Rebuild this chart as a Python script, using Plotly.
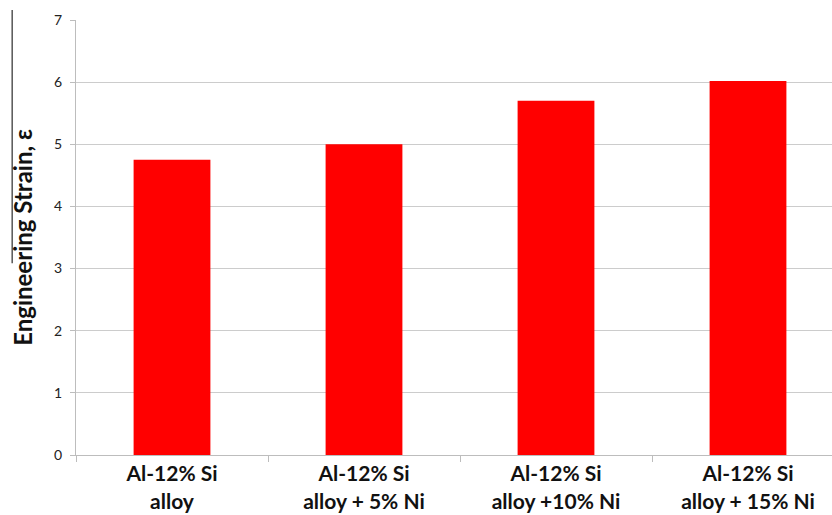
import plotly.graph_objects as go

# Alloy compositions and measured engineering strain
categories = [
    "Al-12% Si<br>alloy",
    "Al-12% Si<br>alloy + 5% Ni",
    "Al-12% Si<br>alloy +10% Ni",
    "Al-12% Si<br>alloy + 15% Ni",
]
strain = [4.75, 5.0, 5.7, 6.02]
y_ticks = [0, 1, 2, 3, 4, 5, 6, 7]

axis_gray = "#bdbdbd"

fig = go.Figure(
    go.Bar(
        x=categories,
        y=strain,
        width=0.40,
        marker=dict(color="#ff0000", line=dict(width=0)),
        hoverinfo="x+y",
    )
)

fig.update_layout(
    width=832,
    height=515,
    margin=dict(l=76, r=0, t=20, b=60),
    paper_bgcolor="white",
    plot_bgcolor="white",
    showlegend=False,
    bargap=0.6,
    font=dict(family="Lato, 'Open Sans', sans-serif", color="#111"),
)

fig.update_xaxes(
    type="category",
    range=[-0.5, 3.4375],
    tickson="boundaries",
    ticks="outside",
    ticklen=6,
    tickcolor=axis_gray,
    tickwidth=1,
    showline=True,
    linecolor=axis_gray,
    linewidth=1,
    showgrid=False,
    tickfont=dict(size=21, family="Lato, sans-serif", color="#111", weight="bold"),
)

fig.update_yaxes(
    range=[0, 7],
    tickvals=y_ticks,
    ticks="outside",
    ticklen=5,
    tickcolor=axis_gray,
    showline=True,
    linecolor=axis_gray,
    linewidth=1,
    showgrid=True,
    gridcolor="#cccccc",
    gridwidth=1,
    zeroline=False,
    ticklabelstandoff=5,
    tickfont=dict(size=14, color="#222"),
    title=dict(
        text="Engineering Strain, ε",
        font=dict(size=24, family="Lato, sans-serif", color="#111", weight="bold"),
        standoff=14,
    ),
)

# Thin frame line along the left edge
fig.add_shape(
    type="line",
    xref="paper", yref="paper",
    x0=-0.0844, x1=-0.0844,
    y0=0.441, y1=1.023,
    line=dict(color="#555555", width=1.5),
)

fig.write_html("out.html")
